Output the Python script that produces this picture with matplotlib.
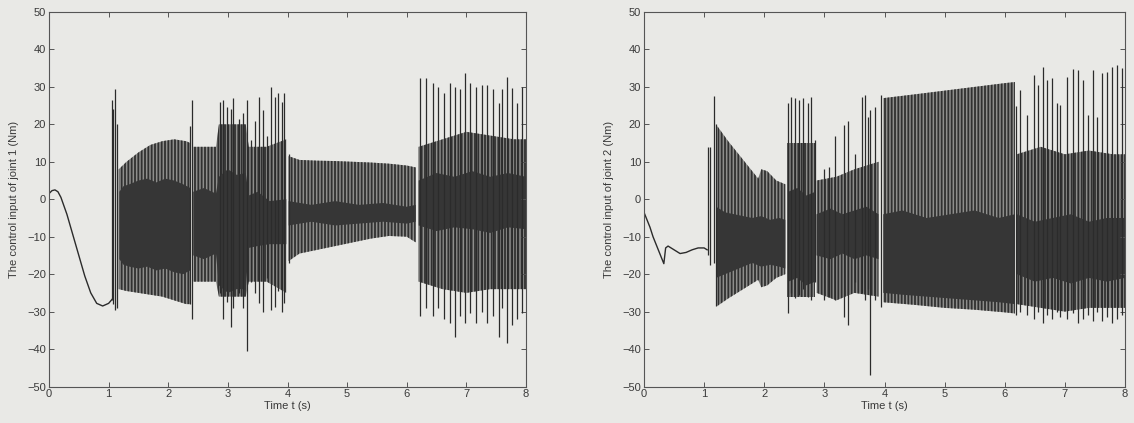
import numpy as np
import matplotlib
matplotlib.use("Agg")
import matplotlib.pyplot as plt

nan = np.nan

# ---------------- Joint 1 ----------------
smooth_t1 = [0, 0.05, 0.1, 0.15, 0.2, 0.3, 0.4, 0.5, 0.6, 0.7, 0.8, 0.9, 1.0, 1.07]
smooth_u1 = [1.5, 2.3, 2.5, 2.0, 0.5, -4.0, -9.5, -15.0, -20.5, -25.0, -27.8, -28.5, -27.8, -26.5]

band_t1 = [1.17, 1.3, 1.5, 1.7, 1.9, 2.1, 2.3, 2.37, nan,
           2.42, 2.8, 2.85, 3.3, 3.35, 3.65, 3.98, nan,
           4.02, 4.2, 4.5, 4.8, 5.1, 5.4, 5.7, 6.0, 6.15, nan,
           6.2, 6.6, 7.0, 7.4, 7.8, 8.0]
band_hi1 = [8, 10, 12.5, 14.5, 15.5, 16, 15.5, 15, nan,
            14, 14, 20, 20, 14, 14, 16, nan,
            11.5, 10.5, 10.3, 10.2, 10, 9.8, 9.5, 9, 8.5, nan,
            14, 16, 18, 17, 16, 16]
band_lo1 = [-24, -24.5, -25, -25.5, -26, -27, -28, -28, nan,
            -22, -22, -26, -26, -22, -22, -25, nan,
            -16.5, -14.5, -13.5, -12.5, -11.5, -10.5, -9.8, -10, -11.5, nan,
            -22, -24, -25, -24, -24, -24]

core_t1 = [1.18, 1.25, 1.35, 1.5, 1.65, 1.8, 1.95, 2.1, 2.25, 2.37, nan,
           2.42, 2.6, 2.8, 2.85, 3.0, 3.15, 3.3, 3.35, 3.5, 3.7, 3.98, nan,
           4.02, 4.4, 4.8, 5.2, 5.6, 6.0, 6.15, nan,
           6.2, 6.5, 6.8, 7.1, 7.4, 7.7, 8.0]
core_hi1 = [2, 3.5, 4, 5, 5.5, 4.5, 5.5, 5, 4, 3, nan,
            2, 3, 1.5, 6, 8, 6.5, 7, 1, 2, -0.5, 0, nan,
            -0.5, -1.5, -0.5, -1.5, -1, -2, -1.5, nan,
            5, 7, 6, 7.5, 6, 7, 6]
core_lo1 = [-16, -17.5, -18, -18.5, -18, -19, -18.5, -19.5, -20, -19, nan,
            -15, -16, -14.5, -23, -25, -24, -24, -13, -12.5, -12, -12, nan,
            -7, -6, -7, -6.5, -6, -6.5, -6, nan,
            -7, -8.5, -7.5, -8, -9, -7.5, -8]

spike_t1 = [1.06, 1.08, 1.11, 1.14, 2.37, 2.39,
            2.86, 2.91, 2.98, 3.05, 3.09, 3.18, 3.25, 3.32, 3.38, 3.46, 3.53, 3.59, 3.66,
            3.73, 3.79, 3.84, 3.90, 3.94, 4.03,
            6.22, 6.33, 6.44, 6.52, 6.62, 6.72, 6.81, 6.90, 6.98, 7.06, 7.16, 7.26, 7.34,
            7.44, 7.54, 7.59, 7.68, 7.76, 7.85, 7.93]
spike_hi1 = [26.5, 24, 29.5, 20, 19.5, 26.5,
             25.9, 26.5, 24.5, 24, 27, 21.3, 23, 26.5, 15.8, 21, 27.3, 23.8, 17,
             30, 27.4, 28.3, 26, 28.5, 12,
             32.3, 32.3, 31, 30, 28.3, 31, 30, 29.5, 33.6, 31, 30, 30.5, 30.5,
             29.5, 25.6, 29.5, 32.7, 29.8, 25.6, 30]
spike_lo1 = [-27, -28, -29.5, -29, -28, -32,
             -25, -32, -27.5, -34, -29, -25, -29, -40.5, -22, -25, -27.8, -30, -21,
             -29.5, -28.7, -24.6, -30, -27.8, -17,
             -31.3, -29, -31.3, -29, -32, -33, -36.7, -31.3, -33, -30.5, -33, -30, -33,
             -31.3, -36.7, -29, -38.4, -33.5, -32, -30.5]

# ---------------- Joint 2 ----------------
smooth_t2 = [0, 0.05, 0.1, 0.15, 0.2, 0.25, 0.3, 0.33, 0.36, 0.4, 0.5, 0.6, 0.7, 0.8, 0.9, 1.0, 1.05]
smooth_u2 = [-3.5, -5.5, -7.5, -10, -12, -14, -16, -17.2, -13, -12.5, -13.5, -14.5, -14.2, -13.5, -13, -13, -13.5]

band_t2 = [1.22, 1.4, 1.6, 1.8, 1.9, 1.95, 2.05, 2.2, 2.35, nan,
           2.38, 2.85, nan,
           2.87, 3.2, 3.5, 3.9, nan,
           3.98, 4.5, 5.0, 5.5, 6.0, 6.17, nan,
           6.2, 6.6, 7.0, 7.4, 7.8, 8.0]
band_hi2 = [19.5, 15.5, 11.5, 7.5, 5.5, 8, 7.5, 5, 4, nan,
            15, 15, nan,
            5, 6, 8, 10, nan,
            27, 28, 29, 30, 31, 31.3, nan,
            12, 14, 12, 13, 12, 12]
band_lo2 = [-28.5, -26.5, -24.5, -22.5, -21.5, -23.5, -23, -21, -20, nan,
            -26, -26, nan,
            -25, -27, -25, -26, nan,
            -27.5, -28.2, -29, -29.5, -30.2, -30.5, nan,
            -28, -29, -30, -29, -29, -29]

core_t2 = [1.2, 1.35, 1.5, 1.65, 1.8, 1.95, 2.1, 2.25, 2.35, nan,
           2.4, 2.55, 2.7, 2.85, nan,
           2.87, 3.1, 3.3, 3.5, 3.7, 3.9, nan,
           3.98, 4.3, 4.7, 5.1, 5.5, 5.9, 6.17, nan,
           6.2, 6.5, 6.8, 7.1, 7.4, 7.7, 8.0]
core_hi2 = [-2, -3.5, -4, -4.5, -5, -4.5, -5.5, -5, -5.5, nan,
            2, 3, 1, 2, nan,
            -4, -2.5, -4, -3, -2, -4, nan,
            -4, -3, -5, -4, -3, -5, -4, nan,
            -4, -6, -5, -4, -6, -5, -5]
core_lo2 = [-21, -20, -19, -18, -17, -18, -17.5, -18, -18.5, nan,
            -22, -21, -23, -22, nan,
            -15, -16, -14.5, -16, -15, -16, nan,
            -25, -25.5, -26, -26.5, -27, -27.5, -28, nan,
            -20, -22, -21, -22.5, -21, -22, -21]

spike_t2 = [1.06, 1.09, 1.17, 1.20,
            2.40, 2.45, 2.51, 2.57, 2.65, 2.72, 2.78, 2.84,
            2.99, 3.07, 3.18, 3.32, 3.40, 3.51, 3.62, 3.67, 3.73, 3.76, 3.84, 3.95,
            6.19, 6.26, 6.37, 6.49, 6.56, 6.63, 6.71, 6.78, 6.87, 6.92, 7.04, 7.13,
            7.21, 7.30, 7.38, 7.47, 7.53, 7.62, 7.70, 7.78, 7.86, 7.95]
spike_hi2 = [14, 14, 27.5, 20,
             25.6, 27.3, 27, 26.5, 27, 25.6, 27.3, 15.8,
             8, 8.5, 17, 19.7, 21, 12, 27.4, 27.8, 22, 23.8, 24.6, 27.8,
             25, 29.1, 22.5, 33.2, 30.5, 35.2, 31.8, 32.3, 25.6, 25.1, 32.7, 34.9,
             34.5, 31.8, 22.5, 34.5, 22, 33.6, 34, 35.4, 35.8, 35]
spike_lo2 = [-15, -17.5, -17, -28.5,
             -30.5, -25, -26.5, -25.5, -24, -26, -27, -22,
             -27, -26, -27, -31.5, -33.7, -22, -25, -27, -24, -47, -27, -28.7,
             -31, -30, -31, -32, -30, -33, -31, -32, -30, -31.5, -32, -30.5,
             -33, -32, -31, -32.5, -30, -32.5, -31.5, -33, -32, -31]

x_ticks = [0, 1, 2, 3, 4, 5, 6, 7, 8]
y_ticks = [-50, -40, -30, -20, -10, 0, 10, 20, 30, 40, 50]
x_label = "Time t (s)"
y_labels = ["The control input of joint 1 (Nm)", "The control input of joint 2 (Nm)"]

# ---------------- drawing ----------------
BG = "#e9e9e6"
INK = "#2b2b2b"
TXT = "#3a3a3a"
plt.rcParams["font.family"] = ["Liberation Sans", "DejaVu Sans"]
plt.rcParams["hatch.linewidth"] = 1.3

fig = plt.figure(figsize=(11.34, 4.23), dpi=100, facecolor=BG)
positions = [[49 / 1134, 1 - 386.5 / 423, 477 / 1134, 374.5 / 423],
             [644 / 1134, 1 - 386.5 / 423, 481 / 1134, 374.5 / 423]]

panels = [
    (smooth_t1, smooth_u1, band_t1, band_hi1, band_lo1, core_t1, core_hi1, core_lo1,
     spike_t1, spike_hi1, spike_lo1),
    (smooth_t2, smooth_u2, band_t2, band_hi2, band_lo2, core_t2, core_hi2, core_lo2,
     spike_t2, spike_hi2, spike_lo2),
]

for i, (st, su, bt, bh, bl, ct, ch, cl, kt, kh, kl) in enumerate(panels):
    ax = fig.add_axes(positions[i])
    ax.set_facecolor(BG)
    ax.plot(st, su, color=INK, lw=1.0)
    bt_a = np.array(bt, float)
    ax.fill_between(bt_a, np.array(bl, float), np.array(bh, float),
                    where=~np.isnan(bt_a), facecolor="#8e8e8c", edgecolor="#303030",
                    hatch="|||||", linewidth=0)
    ct_a = np.array(ct, float)
    ax.fill_between(ct_a, np.array(cl, float), np.array(ch, float),
                    where=~np.isnan(ct_a), facecolor="#363636", linewidth=0)
    ax.vlines(kt, kl, kh, color=INK, lw=0.9)

    ax.set_xlim(0, 8)
    ax.set_ylim(-50, 50)
    ax.set_xticks(x_ticks)
    ax.set_yticks(y_ticks)
    ax.tick_params(direction="in", top=True, right=True, length=3.5, width=0.7,
                   labelsize=8, colors="#555555", labelcolor=TXT, pad=2)
    for s in ax.spines.values():
        s.set_color("#555555")
        s.set_linewidth(0.8)
    ax.set_xlabel(x_label, fontsize=8, color=TXT, labelpad=1)
    ax.set_ylabel(y_labels[i], fontsize=8, color=TXT, labelpad=6)

fig.savefig("out.png", dpi=100, facecolor=BG)
